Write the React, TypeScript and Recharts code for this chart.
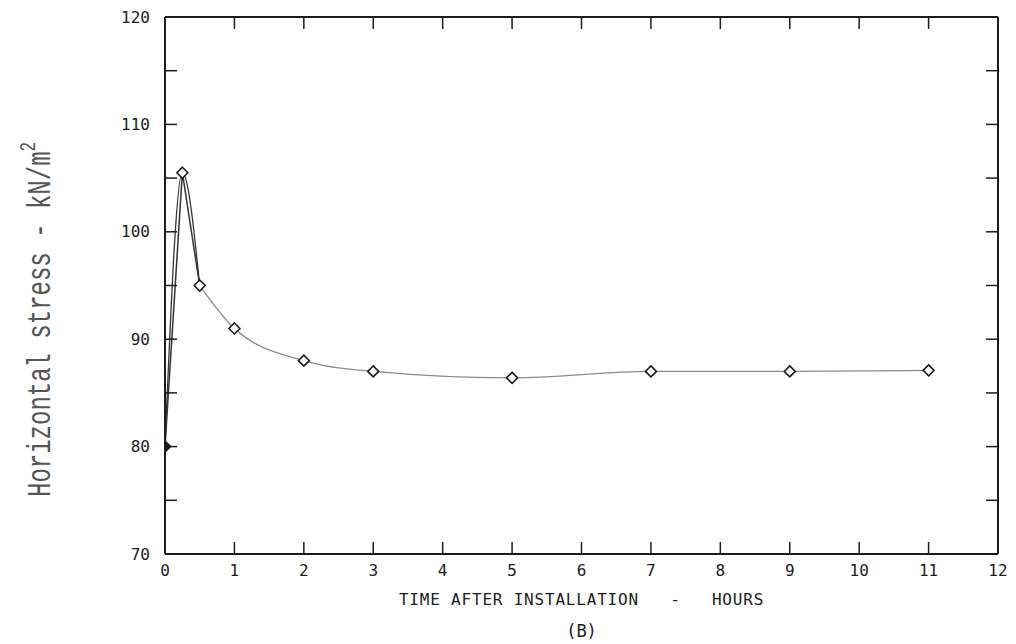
import React from 'react';
import { LineChart, Line, XAxis, YAxis } from 'recharts';

const hours = [0, 0.25, 0.5, 1, 2, 3, 5, 7, 9, 11];
const stress = [80, 105.5, 95, 91, 88, 87, 86.4, 87, 87, 87.1];
const xTicks = [0, 1, 2, 3, 4, 5, 6, 7, 8, 9, 10, 11, 12];
const yTicks = [70, 75, 80, 85, 90, 95, 100, 105, 110, 115, 120];
const xTitle = 'TIME AFTER INSTALLATION\u00A0\u00A0\u00A0-\u00A0\u00A0\u00A0HOURS';
const caption = '(B)';
const yTitle = 'Horizontal stress - kN/m';
const yTitleSup = '2';

const points = hours.map((h, i) => ({ h, v: stress[i] }));
const peakPart = points.slice(0, 3);
const decayPart = points.slice(2);

const INK = '#1c1c1c';
const MONO = '"DejaVu Sans Mono", monospace';
const blank = () => '';

const Diamond = (props: any) => {
  const { cx, cy, index } = props;
  if (cx == null || cy == null) return null;
  const r = 5.5;
  const filled = index === 0;
  return (
    <path
      key={`d-${index}`}
      d={`M${cx},${cy - r}L${cx + r},${cy}L${cx},${cy + r}L${cx - r},${cy}Z`}
      fill={filled ? INK : '#fff'}
      stroke={INK}
      strokeWidth={1.6}
    />
  );
};

const XTitle = (props: any) => {
  const vb = props.viewBox || {};
  const cx = vb.x + vb.width / 2;
  return (
    <g>
      <text x={cx} y={vb.y + 51} textAnchor="middle" fontFamily={MONO} fontSize={16} letterSpacing={0.8} fill={INK}>
        {xTitle}
      </text>
      <text x={cx} y={vb.y + 83} textAnchor="middle" fontFamily={MONO} fontSize={17} fill={INK}>
        {caption}
      </text>
    </g>
  );
};

const YTitle = (props: any) => {
  const vb = props.viewBox || {};
  const bottom = vb.y + vb.height - 57;
  return (
    <text
      transform={`translate(42,${bottom}) rotate(-90) scale(1,1.4)`}
      textAnchor="start"
      fontFamily='"Liberation Mono", "Courier New", monospace'
      fontSize={24}
      fill="#555"
    >
      {yTitle}
      <tspan dy={-11} fontSize={16}>{yTitleSup}</tspan>
    </text>
  );
};

const axisStroke = { stroke: INK, strokeWidth: 2 };
const tickStroke = { stroke: INK, strokeWidth: 1.5 };

export default function App() {
  return (
    <div style={{ width: 1000, height: 636, background: '#fff' }}>
      <LineChart width={1000} height={636} margin={{ top: 9, right: 10, bottom: 0, left: 0 }}>
        <XAxis
          xAxisId="b"
          dataKey="h"
          type="number"
          domain={[0, 12]}
          ticks={xTicks}
          allowDataOverflow
          height={90}
          tickSize={0}
          tickMargin={11}
          axisLine={axisStroke}
          tickLine={false}
          tick={{ fill: INK, fontFamily: MONO, fontSize: 16 }}
          interval={0}
          label={<XTitle />}
        />
        <XAxis
          xAxisId="bm"
          mirror
          dataKey="h"
          type="number"
          domain={[0, 12]}
          ticks={xTicks}
          allowDataOverflow
          height={20}
          tickSize={12}
          axisLine={false}
          tickLine={tickStroke}
          tickFormatter={blank}
          interval={0}
        />
        <XAxis
          xAxisId="t"
          orientation="top"
          mirror
          dataKey="h"
          type="number"
          domain={[0, 12]}
          ticks={xTicks}
          allowDataOverflow
          height={20}
          tickSize={12}
          axisLine={axisStroke}
          tickLine={tickStroke}
          tickFormatter={blank}
          interval={0}
        />
        <YAxis
          yAxisId="l"
          type="number"
          domain={[70, 120]}
          ticks={yTicks}
          allowDataOverflow
          width={157}
          tickSize={0}
          tickMargin={15}
          axisLine={axisStroke}
          tickLine={false}
          tick={{ fill: INK, fontFamily: MONO, fontSize: 16 }}
          tickFormatter={(v: number) => (v % 10 === 0 ? String(v) : '')}
          interval={0}
          label={<YTitle />}
        />
        <YAxis
          yAxisId="lm"
          mirror
          type="number"
          domain={[70, 120]}
          ticks={yTicks}
          allowDataOverflow
          width={20}
          tickSize={12}
          axisLine={false}
          tickLine={tickStroke}
          tickFormatter={blank}
          interval={0}
        />
        <YAxis
          yAxisId="r"
          orientation="right"
          mirror
          type="number"
          domain={[70, 120]}
          ticks={yTicks}
          allowDataOverflow
          width={20}
          tickSize={12}
          axisLine={axisStroke}
          tickLine={tickStroke}
          tickFormatter={blank}
          interval={0}
        />
        <Line
          xAxisId="bm"
          yAxisId="lm"
          data={points}
          dataKey="v"
          stroke="none"
          dot={false}
          activeDot={false}
          isAnimationActive={false}
        />
        <Line
          xAxisId="t"
          yAxisId="r"
          data={points}
          dataKey="v"
          stroke="none"
          dot={false}
          activeDot={false}
          isAnimationActive={false}
        />
        <Line
          xAxisId="b"
          yAxisId="l"
          data={decayPart}
          dataKey="v"
          type="monotone"
          stroke="#8a8a8a"
          strokeWidth={1.3}
          dot={false}
          isAnimationActive={false}
        />
        <Line
          xAxisId="b"
          yAxisId="l"
          data={peakPart}
          dataKey="v"
          type="linear"
          stroke="#333"
          strokeWidth={1.5}
          dot={false}
          isAnimationActive={false}
        />
        <Line
          xAxisId="b"
          yAxisId="l"
          data={peakPart}
          dataKey="v"
          type="monotone"
          stroke="#333"
          strokeWidth={1.3}
          dot={false}
          isAnimationActive={false}
        />
        <Line
          xAxisId="b"
          yAxisId="l"
          data={points}
          dataKey="v"
          stroke="none"
          dot={<Diamond />}
          isAnimationActive={false}
        />
      </LineChart>
    </div>
  );
}
